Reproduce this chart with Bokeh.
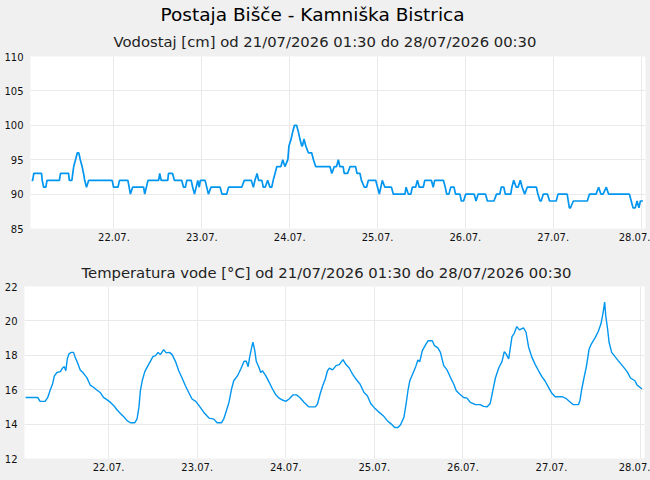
import pandas as pd
from bokeh.plotting import figure
from bokeh.layouts import column
from bokeh.models import Range1d, FixedTicker, DatetimeTickFormatter, Title
from bokeh.embed import file_html
from bokeh.resources import INLINE

# ---------------- data ----------------
base_date = "2026-07-21 00:00"
day_ticks = ["2026-07-22", "2026-07-23", "2026-07-24", "2026-07-25",
             "2026-07-26", "2026-07-27", "2026-07-28"]

# Vodostaj [cm]: hours since 21/07 00:00, level
level_hours = [1.5, 1.8, 2.1, 4.2, 4.4, 4.8, 5.4, 5.7, 9.1, 9.4, 11.6, 11.8, 12.5, 13.0, 13.5, 14.0,
               14.4, 14.8, 15.3, 15.7, 16.0, 16.5, 17.1, 23.5, 23.9, 25.1, 25.5, 27.8, 28.5, 29.1,
               32.1, 32.4, 33.3, 36.2, 36.5, 36.9, 38.7, 38.9, 40.0, 40.5, 42.5, 43.0, 43.5, 43.9,
               45.1, 45.5, 46.0, 46.9, 47.3, 47.6, 48.9, 49.8, 50.5, 53.0, 53.5, 54.8, 55.3, 58.9,
               59.6, 61.5, 62.1, 62.5, 63.1, 63.5, 64.4, 64.8, 65.3, 66.0, 66.6, 67.1, 67.5, 68.0,
               68.5, 69.6, 70.1, 70.7, 71.5, 71.8, 72.4, 72.8, 73.3, 73.9, 74.4, 74.8, 75.3, 75.5,
               75.9, 76.4, 77.1, 78.0, 78.5, 79.1, 83.0, 83.5, 84.2, 84.8, 85.3,
               85.7, 86.6, 86.9, 87.8, 88.5, 90.0, 90.4, 91.2, 91.6, 92.4, 93.0, 93.5, 95.5, 96.0,
               96.5, 97.3, 98.0, 99.8, 100.3, 103.5, 103.8, 104.4, 105.1, 105.5, 106.4, 106.9,
               107.4, 108.5, 108.9, 110.7, 111.2, 111.6, 114.0, 114.5, 114.9, 115.5, 116.0, 116.9,
               117.3, 118.5, 118.9, 119.5, 120.1, 122.4, 122.9, 123.5, 125.5, 126.0, 127.8, 128.5,
               129.4, 129.8, 130.5, 130.9, 132.4, 132.7, 133.2, 133.9, 134.4, 135.0, 135.5, 136.2,
               136.9, 139.4, 139.8, 140.4, 140.7, 141.3, 142.4, 143.0, 144.8, 145.3, 147.8, 148.4,
               148.7, 149.5, 153.3, 153.9, 155.7, 156.4, 157.0, 157.6, 158.5, 159.1, 164.8, 165.3,
               165.8, 166.4, 166.9, 167.4, 167.8, 168.5]
level_cm = [92, 92, 93, 93, 92, 91, 91, 92, 92, 93, 93, 92, 92, 94, 95, 96,
            96, 95, 94, 93, 92, 91, 92, 92, 91, 91, 92, 92, 90, 91,
            91, 90, 92, 92, 93, 92, 92, 93, 93, 92, 92, 91, 91, 92,
            92, 91, 90, 92, 91, 92, 92, 90, 91, 91, 90, 90, 91, 91,
            92, 92, 91, 92, 93, 92, 92, 91, 91, 92, 91, 91, 92, 93,
            94, 94, 95, 94, 95, 97, 98, 99, 100, 100, 99, 98, 97, 97,
            98, 97, 96, 96, 95, 94, 94, 93, 94, 94, 95,
            94, 94, 93, 93, 94, 94, 93, 93, 92, 91, 91, 92, 92, 91,
            90, 92, 91, 91, 90, 90, 91, 90, 90, 91, 91, 92,
            91, 91, 92, 92, 91, 92, 92, 91, 90, 90, 91, 91,
            90, 90, 89, 89, 90, 90, 89, 90, 90, 89, 89, 90,
            90, 91, 91, 90, 90, 91, 92, 91, 91, 92, 91, 90,
            91, 91, 90, 89, 89, 90, 90, 89, 89, 90, 90, 88,
            88, 89, 89, 90, 90, 91, 90, 90, 91, 90, 90, 89,
            88, 88, 89, 88, 89, 89]

# Temperatura vode [°C]: hours since 21/07 00:00, temperature
temp_hours = [1.5, 4.8, 5.4, 6.8, 7.5, 8.1, 8.8, 9.3, 10.0, 10.9, 11.5, 12.0, 12.4, 12.8, 13.3, 13.9,
              14.5, 14.9, 15.7, 16.3, 17.2, 18.1, 19.0, 19.9, 20.8, 21.7, 22.6, 23.5, 24.5, 25.4,
              26.3, 27.2, 28.1, 29.0, 29.9, 31.1, 31.7, 32.2, 32.6, 33.1, 33.8, 34.4, 35.3, 36.0,
              36.7, 37.4, 38.0, 38.9, 39.6, 40.5, 41.2, 42.1, 43.0, 43.9, 44.8, 45.7, 46.6, 47.6,
              48.5, 49.8, 51.2, 52.5, 53.4, 54.6, 55.2, 55.9, 56.6, 57.3, 57.9, 58.9, 59.8, 60.7,
              61.3, 61.8, 62.2, 62.8, 63.1, 63.6, 64.0, 64.8, 65.2, 65.7, 66.6, 67.5, 68.4, 69.3,
              70.2, 71.1, 72.0, 72.9, 74.0, 74.9, 75.8, 77.0, 77.9, 78.3, 80.0, 80.6, 81.3, 82.0,
              82.7, 83.3, 83.8, 84.7, 85.6, 86.5, 87.5, 88.3, 89.2, 90.1, 91.0, 92.1, 93.2, 94.1,
              95.0, 95.9, 97.0, 98.4, 99.5, 100.6, 101.5, 102.4, 103.1, 104.0, 104.6, 105.1, 105.6,
              106.3, 107.2, 107.8, 108.3, 109.0, 109.9, 110.6, 111.7, 112.3, 113.2, 113.9, 114.8,
              115.7, 116.6, 117.5, 118.2, 119.1, 120.2, 121.1, 122.0, 123.4, 124.7, 125.6, 126.5,
              127.4, 128.1, 128.8, 129.7, 130.6, 131.2, 131.7, 132.4, 132.8, 133.3, 133.9, 134.6,
              135.3, 136.4, 137.1, 137.8, 138.7, 139.6, 140.5, 141.4, 142.3, 143.2, 144.1, 145.0,
              147.0, 148.1, 149.2, 149.9, 151.3, 151.7, 152.2, 152.8, 153.5, 154.2, 154.9, 155.8,
              156.7, 157.4, 158.0, 158.4, 158.7, 159.2, 159.6, 160.3, 161.2, 162.3, 163.4, 164.5,
              165.4, 166.6, 167.2, 168.5]
temp_c = [15.55, 15.55, 15.32, 15.32, 15.55, 15.94, 16.33, 16.8, 17.0, 17.05, 17.26, 17.34, 17.1, 17.8, 18.1, 18.17,
          18.17, 17.9, 17.5, 17.15, 16.95, 16.7, 16.27, 16.14, 15.98, 15.84, 15.55, 15.42, 15.26, 15.07,
          14.82, 14.62, 14.43, 14.2, 14.08, 14.08, 14.3, 14.97, 15.94, 16.52, 17.05, 17.3, 17.65, 17.92,
          17.98, 18.17, 18.04, 18.33, 18.14, 18.17, 18.04, 17.65, 17.1, 16.68, 16.23, 15.84, 15.46, 15.32,
          15.07, 14.68, 14.35, 14.29, 14.08, 14.08, 14.3, 14.78, 15.26, 16.04, 16.52, 16.8, 17.2, 17.65,
          17.65, 17.34, 17.88, 18.5, 18.76, 18.27, 17.65, 17.26, 17.0, 17.1, 16.8, 16.43, 16.04, 15.7,
          15.51, 15.4, 15.32, 15.46, 15.7, 15.7, 15.55, 15.26, 15.07, 15.0, 15.0, 15.17, 15.75, 16.23,
          16.62, 17.1, 17.26, 17.15, 17.4, 17.46, 17.75, 17.46, 17.26, 16.9, 16.62, 16.33, 15.84, 15.65,
          15.2, 14.97, 14.74, 14.49, 14.2, 14.0, 13.8, 13.8, 13.96, 14.39, 15.17, 15.94, 16.52,
          16.87, 17.34, 17.73, 17.63, 18.27, 18.62, 18.85, 18.85, 18.56, 18.43, 18.17, 17.4,
          17.15, 16.72, 16.33, 15.94, 15.75, 15.55, 15.51, 15.26, 15.13, 15.13, 15.03, 15.0,
          15.2, 15.94, 16.68, 17.26, 17.65, 18.21, 18.08, 17.79, 18.37, 19.09, 19.28, 19.67,
          19.48, 19.59, 19.34, 18.47, 17.88, 17.46, 17.1, 16.76, 16.49, 16.14, 15.79, 15.59,
          15.59, 15.46, 15.26, 15.13, 15.13, 15.36, 16.04, 16.68, 17.4, 18.37, 18.7, 19.01,
          19.4, 19.83, 20.5, 21.09, 20.3, 19.53, 18.76, 18.17, 17.92, 17.63, 17.34, 17.05,
          16.68, 16.52, 16.27, 16.04]

level_ticks = [85, 90, 95, 100, 105, 110]
temp_ticks = [12, 14, 16, 18, 20, 22]

title_main = "Postaja Bišče - Kamniška Bistrica"
title_level = "Vodostaj [cm] od 21/07/2026 01:30 do 28/07/2026 00:30"
title_temp = "Temperatura vode [°C] od 21/07/2026 01:30 do 28/07/2026 00:30"

# ---------------- helpers ----------------
base = pd.Timestamp(base_date)
level_x = [base + pd.Timedelta(hours=h) for h in level_hours]
temp_x = [base + pd.Timedelta(hours=h) for h in temp_hours]
tick_ms = [pd.Timestamp(d).value / 1e6 for d in day_ticks]
x_start = base + pd.Timedelta(hours=1.2)
x_end = base + pd.Timedelta(hours=169.2)

BG = "#f0f0f0"
GRID = "#e9e9e9"
LINE = "#0096f0"
FONT = "DejaVu Sans"


def style(p, yticks):
    p.frame_align = False
    p.background_fill_color = "white"
    p.border_fill_color = BG
    p.outline_line_color = None
    p.xaxis.ticker = FixedTicker(ticks=tick_ms)
    p.xaxis.formatter = DatetimeTickFormatter(days="%d.%m.", months="%d.%m.", hours="%d.%m.")
    p.yaxis.ticker = FixedTicker(ticks=yticks)
    for ax in (p.xaxis[0], p.yaxis[0]):
        ax.axis_line_color = None
        ax.major_tick_line_color = None
        ax.minor_tick_line_color = None
        ax.major_tick_out = 0
        ax.major_tick_in = 0
        ax.major_label_text_font = FONT
        ax.major_label_text_font_size = "10px"
        ax.major_label_text_color = "#111111"
    p.xaxis.major_label_standoff = 4
    p.yaxis.major_label_standoff = 7
    p.xgrid.ticker = FixedTicker(ticks=tick_ms)
    p.ygrid.ticker = FixedTicker(ticks=yticks)
    p.xgrid.grid_line_color = GRID
    p.ygrid.grid_line_color = GRID


# ---------------- top figure ----------------
p1 = figure(width=650, height=250, x_axis_type="datetime",
            x_range=Range1d(x_start, x_end), y_range=Range1d(85, 110),
            output_backend="svg", toolbar_location=None,
            min_border_left=30, min_border_right=5, min_border_top=56, min_border_bottom=22)
style(p1, level_ticks)
p1.add_layout(Title(text=title_level, align="left", text_font=FONT, text_font_size="14.8px",
                    text_font_style="normal", text_color="#222222", offset=83, standoff=13), "above")
p1.add_layout(Title(text=title_main, align="left", text_font=FONT, text_font_size="18.5px",
                    text_font_style="normal", text_color="#000000", offset=130, standoff=0,
                    text_line_height=0.8), "above")
p1.line(level_x, level_cm, line_color=LINE, line_width=1.7)

# ---------------- bottom figure ----------------
p2 = figure(width=650, height=230, x_axis_type="datetime",
            x_range=Range1d(x_start, x_end), y_range=Range1d(12, 22),
            output_backend="svg", toolbar_location=None,
            min_border_left=24, min_border_right=6, min_border_top=36, min_border_bottom=22)
style(p2, temp_ticks)
p2.add_layout(Title(text=title_temp, align="left", text_font=FONT, text_font_size="14.8px",
                    text_font_style="normal", text_color="#222222", offset=57, standoff=11), "above")
p2.line(temp_x, temp_c, line_color=LINE, line_width=1.4)

layout = column(p1, p2, spacing=0)
layout.styles = {"background-color": BG}

open("out.html", "w").write(file_html(layout, INLINE))
